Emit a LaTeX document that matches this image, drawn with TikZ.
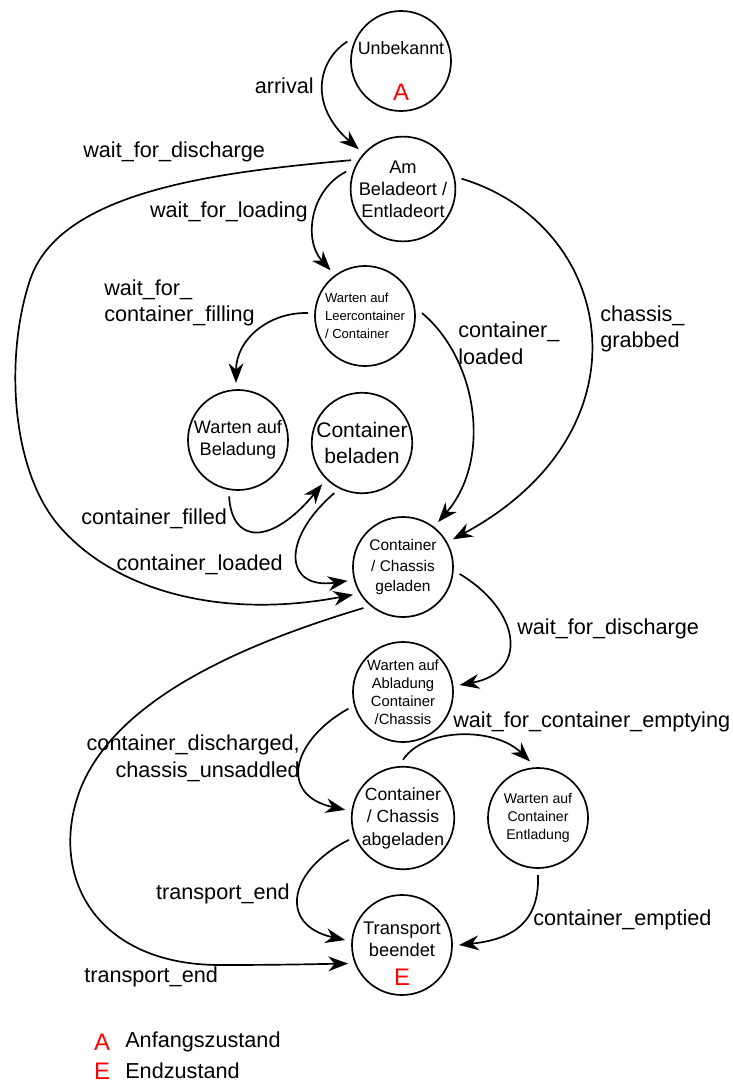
\documentclass[tikz,border=0pt]{standalone}
\usepackage{fontspec}
\setmainfont{Liberation Sans}
\usetikzlibrary{arrows.meta}
\begin{document}
\begin{tikzpicture}[x=0.025cm,y=-0.025cm,
  state/.style={circle,draw,line width=1.2pt,minimum size=2.5cm,inner sep=0pt,outer sep=5pt},
  trans/.style={line width=1.2pt,-{Stealth[length=14pt,width=10.5pt,inset=4.5pt]}},
  lbl/.style={inner sep=0pt,font=\fontsize{15.4}{19}\selectfont},
  redletter/.style={text=red,inner sep=0pt,font=\fontsize{17}{17}\selectfont}]
\useasboundingbox (0,0) rectangle (732,1084);

% states
\node[state,
  label={[inner sep=0pt,font=\fontsize{12.7}{15}\selectfont,yshift=0.325cm]center:Unbekannt},
  label={[redletter,yshift=-0.775cm]center:A}] (U) at (401,61) {};
\node[state,align=center,font=\fontsize{13}{15.6}\selectfont] (B) at (403,189) {Am\\Beladeort /\\Entladeort};
\node[state,align=left,font=\fontsize{9.3}{12.8}\selectfont] (L) at (365,316) {Warten auf\\Leercontainer\\/ Container};
\node[state,align=center,font=\fontsize{12.9}{16}\selectfont] (WB) at (238,440) {Warten auf\\Beladung};
\node[state,align=center,font=\fontsize{15}{19}\selectfont] (CB) at (362,443) {Container\\beladen};
\node[state,align=center,font=\fontsize{11}{14.5}\selectfont] (G) at (403,567) {Container\\/ Chassis\\geladen};
\node[state,align=center,font=\fontsize{10.5}{12.8}\selectfont] (AB) at (403,692) {Warten auf\\Abladung\\Container\\/Chassis};
\node[state,align=center,font=\fontsize{12.5}{16}\selectfont] (AG) at (403,818) {Container\\/ Chassis\\abgeladen};
\node[state,align=center,font=\fontsize{10}{12.8}\selectfont] (EL) at (538,818) {Warten auf\\Container\\Entladung};
\node[state,
  label={[inner sep=0pt,align=center,font=\fontsize{13}{15.6}\selectfont,yshift=0.15cm]center:Transport\\beendet},
  label={[redletter,yshift=-0.8cm]center:E}] (T) at (402,945) {};

% transitions
\draw[trans] (U.160) .. controls (318,60) and (308,105) .. (B.138);
\draw[trans] (B.151) .. controls (220,172) and (60,190) .. (30,280)
   .. controls (5,355) and (10,470) .. (60,527)
   .. controls (115,590) and (220,620) .. (G.209);
\draw[trans] (B.163) .. controls (310,190) and (303,240) .. (L.127);
\draw[trans] (L.177) .. controls (268,312) and (236,340) .. (WB.92);
\draw[trans] (L.3) .. controls (478,360) and (492,460) .. (G.52);
\draw[trans] (B.10) .. controls (615,225) and (655,430) .. (G.29);
\draw[trans] (WB.261) .. controls (232,545) and (272,545) .. (CB.226);
\draw[trans] (CB.241) .. controls (280,540) and (285,590) .. (G.194);
\draw[trans] (G.353) .. controls (520,610) and (530,672) .. (AB.7);
\draw[trans] (G.226) .. controls (240,645) and (115,700) .. (80,790)
   .. controls (48,875) and (95,965) .. (220,965)
   .. controls (280,965) and (320,964) .. (T.199);
\draw[trans] (AB.197) .. controls (292,740) and (278,795) .. (AG.172);
\draw[trans] (AG.90) .. controls (425,727) and (495,727) .. (EL.98);
\draw[trans] (AG.202) .. controls (288,870) and (278,925) .. (T.175);
\draw[trans] (EL.270) .. controls (540,928) and (505,940) .. (T.0);

% labels
\node[lbl,anchor=east] (l1) at (314,86) {arrival};
\node[lbl,anchor=west] (l2) at (83,152) {wait\_for\_discharge};
\node[lbl,anchor=east] (l3) at (308,212) {wait\_for\_loading};
\node[lbl,anchor=west,align=left] (l4) at (104,303) {wait\_for\_\\container\_filling};
\node[lbl,anchor=west,align=left] (l5) at (458,343) {container\_\\loaded};
\node[lbl,anchor=west,align=left] (l6) at (600,329) {chassis\_\\grabbed};
\node[lbl,anchor=west] (l7) at (81,519) {container\_filled};
\node[lbl,anchor=east] (l8) at (283,565) {container\_loaded};
\node[lbl,anchor=west] (l9) at (517,629) {wait\_for\_discharge};
\node[lbl,anchor=east,align=right] (l10) at (300,758) {container\_discharged,\\chassis\_unsaddled};
\node[lbl,anchor=west] (l11) at (453,722) {wait\_for\_container\_emptying};
\node[lbl,anchor=east] (l12) at (290,894) {transport\_end};
\node[lbl,anchor=west] (l13) at (533,920) {container\_emptied};
\node[lbl,anchor=west] (l14) at (84,977) {transport\_end};

% legend
\node[redletter] (legA) at (102,1042) {A};
\node[lbl,anchor=west] (legAt) at (125,1042) {Anfangszustand};
\node[redletter] (legE) at (102,1071) {E};
\node[lbl,anchor=west] (legEt) at (125,1071) {Endzustand};
\end{tikzpicture}
\end{document}
